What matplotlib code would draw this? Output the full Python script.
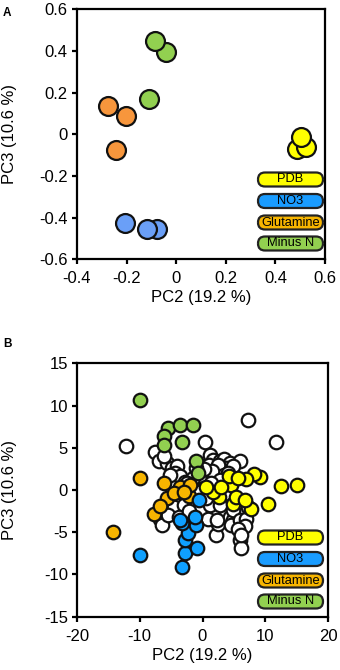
import matplotlib
matplotlib.use("Agg")
import matplotlib.pyplot as plt
from matplotlib.patches import FancyBboxPatch

plt.rcParams['font.family'] = ['Liberation Sans', 'DejaVu Sans']
plt.rcParams['axes.unicode_minus'] = False

# ---------------- Data: panel A ----------------
a_pdb_x = [0.486, 0.522, 0.503]
a_pdb_y = [-0.070, -0.060, -0.015]
a_no3_x = [-0.207, -0.078, -0.118]
a_no3_y = [-0.424, -0.453, -0.453]
a_glu_x = [-0.277, -0.203, -0.242]
a_glu_y = [0.136, 0.090, -0.075]
a_mn_x = [-0.042, -0.085, -0.108]
a_mn_y = [0.397, 0.450, 0.170]

# ---------------- Data: panel B ----------------
b_open_x = [-12.2, 7.3, 11.7, 0.4,
            -7.5, -7.0, -5.7, -4.9, -4.1, -4.4, -3.6, -6.2, -5.2, -2.8,
            1.2, 1.7, 2.8, 3.4, 4.4, 6.0, 2.0, 3.0, 3.8, 4.9, 2.3, 0.7, -0.4, -1.5, -2.5,
            1.0, 2.5, 3.5, 1.5, 0.2, -1.0, 4.0, 2.8, 1.4, 0.3,
            -3.3, -4.1, -4.6, -6.8, -6.5, -4.6, -3.0, -5.5, -3.8, -2.2, -1.8, -0.8,
            1.7, 1.2, 2.1, 2.5, 2.8, 4.4, 4.9, 4.6, 4.9, 6.0, 7.0, 7.2, 6.8, 6.0, 6.2,
            5.7, 6.2, 0.9, 2.3, 0.5, 3.5]
b_open_y = [5.2, 8.3, 5.7, 5.7,
            4.5, 3.4, 3.2, 2.6, 2.8, 2.0, 1.6, 4.0, 1.8, 1.0,
            4.1, 3.6, 3.4, 3.7, 3.2, 3.4, 2.6, 2.4, 2.6, 2.8, 2.0, 1.6, 1.2, 1.4, 0.8,
            3.0, 3.0, 1.8, 2.2, 2.5, 2.6, 2.0, 1.2, 0.8, 0.2,
            -1.6, -1.8, -2.8, -3.4, -4.1, -2.0, -1.8, -3.0, -3.2, -2.5, -0.5, -0.2,
            -2.6, -1.8, -5.3, -4.0, -1.8, -3.2, -3.6, -4.1, -2.4, -3.6, -3.4, -2.0, -4.3, -5.9, -6.9,
            -4.6, -5.3, -3.4, -3.6, -1.0, -0.5]
b_pdb_x = [15.1, 12.5, 10.5, 9.2, 8.2, 7.0, 4.6, 4.9, 7.8, 5.4, 2.6, 1.6, 0.5, 4.2, 5.7, 3.0, 6.8]
b_pdb_y = [0.6, 0.5, -1.7, 1.5, 1.9, 1.3, 0.6, -1.6, -2.2, -0.8, -0.8, -0.2, 0.3, 1.6, 1.4, 0.3, -1.2]
b_no3_x = [-10.0, -3.3, -2.8, -0.8, -2.8, -2.3, -1.1, -3.3, -3.6, -1.2, -0.6]
b_no3_y = [-7.7, -9.1, -7.5, -6.9, -5.9, -5.1, -4.1, -3.9, -3.6, -3.2, -1.2]
b_glu_x = [-10.0, -14.2, -6.2, -7.8, -5.7, -6.8, -3.6, -2.2, -2.0, -4.6, -3.0]
b_glu_y = [1.4, -5.0, 0.8, -2.8, -0.9, -1.9, 0.3, -0.7, 0.6, -0.3, -0.2]
b_mn_x = [-10.0, -5.5, -6.2, -6.2, -3.6, -1.5, -3.3, -1.0, -0.7]
b_mn_y = [10.6, 7.3, 6.4, 5.3, 7.7, 7.7, 5.7, 3.4, 2.0]

legend_labels = ['PDB', 'NO3', 'Glutamine', 'Minus N']
legend_colors = ['#FFFF00', '#1A9CFF', '#F7B500', '#92D050']
a_colors = {'pdb': '#FFFF00', 'no3': '#6A9FF7', 'glu': '#F7963C', 'mn': '#92D050'}
b_colors = {'pdb': '#FFFF00', 'no3': '#0FA0FF', 'glu': '#F7B500', 'mn': '#92D050'}

xlabel = 'PC2 (19.2 %)'
ylabel = 'PC3 (10.6 %)'

W, H = 340, 670
fig = plt.figure(figsize=(W / 100, H / 100), dpi=100)

def px_axes(l, r, t, b):
    return fig.add_axes([l / W, (H - b) / H, (r - l) / W, (b - t) / H])

axA = px_axes(77, 325, 9.3, 259.3)
axB = px_axes(77, 328, 363.3, 616.7)

ec = '#111111'
lw = 1.6
sA = 185
sB = 95
axA.scatter(a_glu_x, a_glu_y, s=sA, c=a_colors['glu'], edgecolors=ec, linewidths=lw, zorder=3)
axA.scatter(a_mn_x, a_mn_y, s=sA, c=a_colors['mn'], edgecolors=ec, linewidths=lw, zorder=3)
axA.scatter(a_no3_x, a_no3_y, s=sA, c=a_colors['no3'], edgecolors=ec, linewidths=lw, zorder=3)
axA.scatter(a_pdb_x, a_pdb_y, s=sA, c=a_colors['pdb'], edgecolors=ec, linewidths=lw, zorder=3)
axA.set_xlim(-0.4, 0.6)
axA.set_ylim(-0.6, 0.6)
axA.set_xticks([-0.4, -0.2, 0, 0.2, 0.4, 0.6])
axA.set_xticklabels(['-0.4', '-0.2', '0', '0.2', '0.4', '0.6'])
axA.set_yticks([-0.6, -0.4, -0.2, 0, 0.2, 0.4, 0.6])
axA.set_yticklabels(['-0.6', '-0.4', '-0.2', '0', '0.2', '0.4', '0.6'])

axB.scatter(b_open_x, b_open_y, s=sB, c='white', edgecolors=ec, linewidths=lw, zorder=2)
axB.scatter(b_glu_x, b_glu_y, s=sB, c=b_colors['glu'], edgecolors=ec, linewidths=lw, zorder=3)
axB.scatter(b_pdb_x, b_pdb_y, s=sB, c=b_colors['pdb'], edgecolors=ec, linewidths=lw, zorder=3)
axB.scatter(b_no3_x, b_no3_y, s=sB, c=b_colors['no3'], edgecolors=ec, linewidths=lw, zorder=3)
axB.scatter(b_mn_x, b_mn_y, s=sB, c=b_colors['mn'], edgecolors=ec, linewidths=lw, zorder=3)
axB.set_xlim(-20, 20)
axB.set_ylim(-15, 15)
axB.set_xticks([-20, -10, 0, 10, 20])
axB.set_yticks([-15, -10, -5, 0, 5, 10, 15])

for ax in (axA, axB):
    for sp in ax.spines.values():
        sp.set_linewidth(1.6)
        sp.set_color('black')
    ax.tick_params(direction='out', length=3.6, width=1.6, labelsize=12)
    ax.tick_params(axis='x', pad=5)
    ax.tick_params(axis='y', pad=3)
    ax.set_xlabel(xlabel, fontsize=12, labelpad=3)
    ax.set_ylabel(ylabel, fontsize=12, va='center')
    ax.yaxis.set_label_coords(-67 / (ax.get_position().width * W), 0.5)

# legend boxes (drawn in figure pixel space)
def draw_legend(centers_px):
    for lab, col, cy in zip(legend_labels, legend_colors, centers_px):
        h = 14.0
        x0, x1 = 258.0, 323.0
        y0 = (H - cy - h / 2) / 100
        box = FancyBboxPatch((x0 / 100, y0), (x1 - x0) / 100, h / 100,
                             boxstyle='round,pad=0,rounding_size=0.07',
                             transform=fig.dpi_scale_trans, facecolor=col,
                             edgecolor='#222222', linewidth=1.6, zorder=10)
        fig.add_artist(box)
        fig.text((x0 + x1) / 2 / W, (H - cy) / H, lab, ha='center', va='center',
                 fontsize=9.3, color='black', zorder=11)

draw_legend([179.5, 201.0, 222.5, 243.5])
draw_legend([537.5, 559.0, 580.5, 601.5])

fig.text(3 / W, (H - 13) / H, 'A', fontsize=8.5, fontweight='bold', ha='left', va='center')
fig.text(3 / W, (H - 344) / H, 'B', fontsize=8.5, fontweight='bold', ha='left', va='center')

fig.savefig('out.png', dpi=100)
